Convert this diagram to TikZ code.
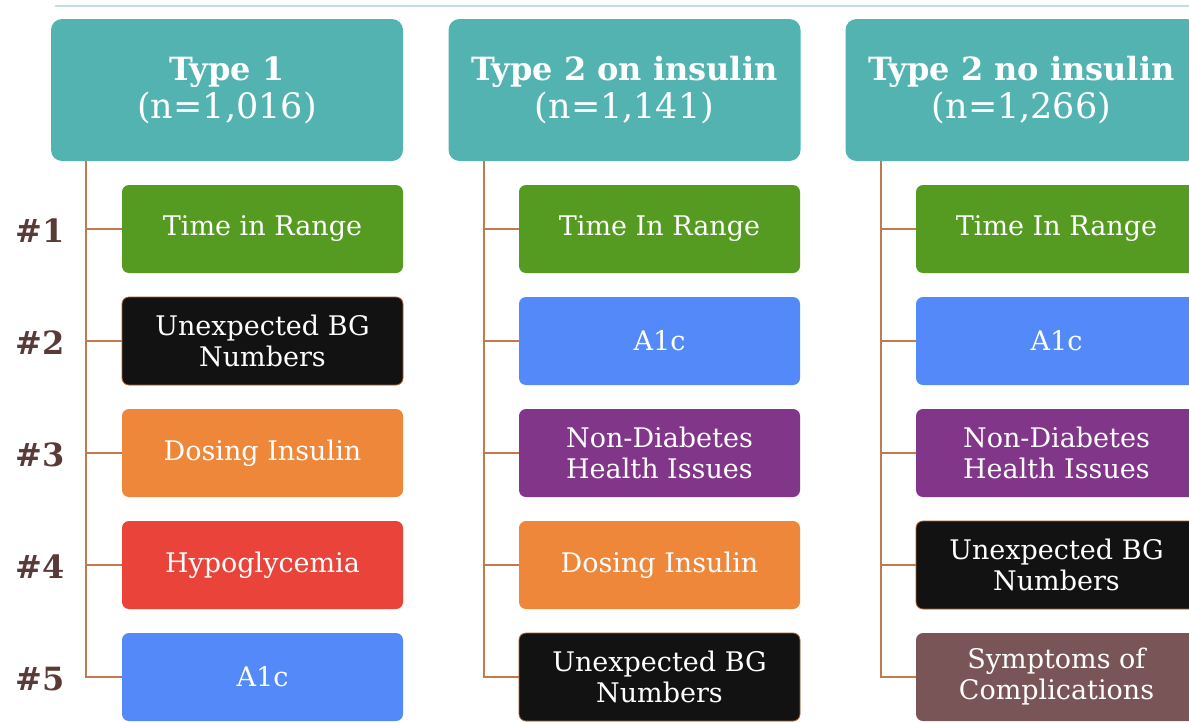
\documentclass[tikz,border=0pt]{standalone}
\usepackage{fontspec}
\setmainfont{DejaVu Serif}
\usetikzlibrary{positioning}
\definecolor{teal1}{HTML}{52B3B0}
\definecolor{gr}{HTML}{559B22}
\definecolor{bk}{HTML}{121212}
\definecolor{orn}{HTML}{EF873A}
\definecolor{rd}{HTML}{E9433A}
\definecolor{bl}{HTML}{5389F8}
\definecolor{pu}{HTML}{81368A}
\definecolor{mv}{HTML}{7A5557}
\definecolor{conn}{HTML}{C07A4E}
\definecolor{lbl}{HTML}{5A3A36}
\definecolor{topline}{HTML}{BFE0E0}
\tikzset{
  hdr/.style={fill=teal1, rounded corners=11pt, minimum width=352pt, minimum height=142pt, text=white, align=center, font=\fontsize{35}{38}\selectfont, inner sep=0pt},
  item/.style={rounded corners=7pt, minimum width=281pt, minimum height=88pt, text=white, align=center, font=\fontsize{27}{31}\selectfont, inner sep=0pt},
  blk/.style={item, fill=bk, draw=orn!70!black, line width=0.8pt},
  rank/.style={text=lbl, font=\bfseries\fontsize{32}{32}\selectfont},
  cn/.style={draw=conn, line width=1.3pt}
}
\newcommand{\hb}[1]{{\bfseries\fontsize{32}{38}\selectfont #1}}
\begin{document}
\begin{tikzpicture}[x=1pt,y=-1pt]
\useasboundingbox (0,0) rectangle (1189,723);
\clip (0,0) rectangle (1189,723);
\draw[topline, line width=1.5pt] (55,6) -- (1189,6);
% headers
\node[hdr] (h1) at (227,90) {\hb{Type 1}\\(n=1,016)};
\node[hdr] (h2) at (624.5,90) {\hb{Type 2 on insulin}\\(n=1,141)};
\node[hdr] (h3) at (1021.5,90) {\hb{Type 2 no insulin}\\(n=1,266)};
% column 1
\node[item, fill=gr] (a1) at (262.5,229) {Time in Range};
\node[blk] (a2) at (262.5,341) {Unexpected BG\\Numbers};
\node[item, fill=orn] (a3) at (262.5,453) {Dosing Insulin};
\node[item, fill=rd] (a4) at (262.5,565) {Hypoglycemia};
\node[item, fill=bl] (a5) at (262.5,677) {A1c};
% column 2
\node[item, fill=gr] (b1) at (659.5,229) {Time In Range};
\node[item, fill=bl] (b2) at (659.5,341) {A1c};
\node[item, fill=pu] (b3) at (659.5,453) {Non-Diabetes\\Health Issues};
\node[item, fill=orn] (b4) at (659.5,565) {Dosing Insulin};
\node[blk] (b5) at (659.5,677) {Unexpected BG\\Numbers};
% column 3
\node[item, fill=gr] (c1) at (1056.5,229) {Time In Range};
\node[item, fill=bl] (c2) at (1056.5,341) {A1c};
\node[item, fill=pu] (c3) at (1056.5,453) {Non-Diabetes\\Health Issues};
\node[blk] (c4) at (1056.5,565) {Unexpected BG\\Numbers};
\node[item, fill=mv] (c5) at (1056.5,677) {Symptoms of\\Complications};
% ranks
\node[rank] (r1) at (40,231) {\#1};
\node[rank] (r2) at (40,343) {\#2};
\node[rank] (r3) at (40,455) {\#3};
\node[rank] (r4) at (40,567) {\#4};
\node[rank] (r5) at (40,679) {\#5};
% connectors
\foreach \h/\c/\x in {h1/a/86, h2/b/484, h3/c/881}{
  \coordinate (\c t) at (\x,161);
  \draw[cn] (\c t) |- (\c5.west);
  \foreach \i in {1,2,3,4}{
    \draw[cn] (\x,0 |- \c\i.west) -- (\c\i.west);
  }
}
\end{tikzpicture}
\end{document}
